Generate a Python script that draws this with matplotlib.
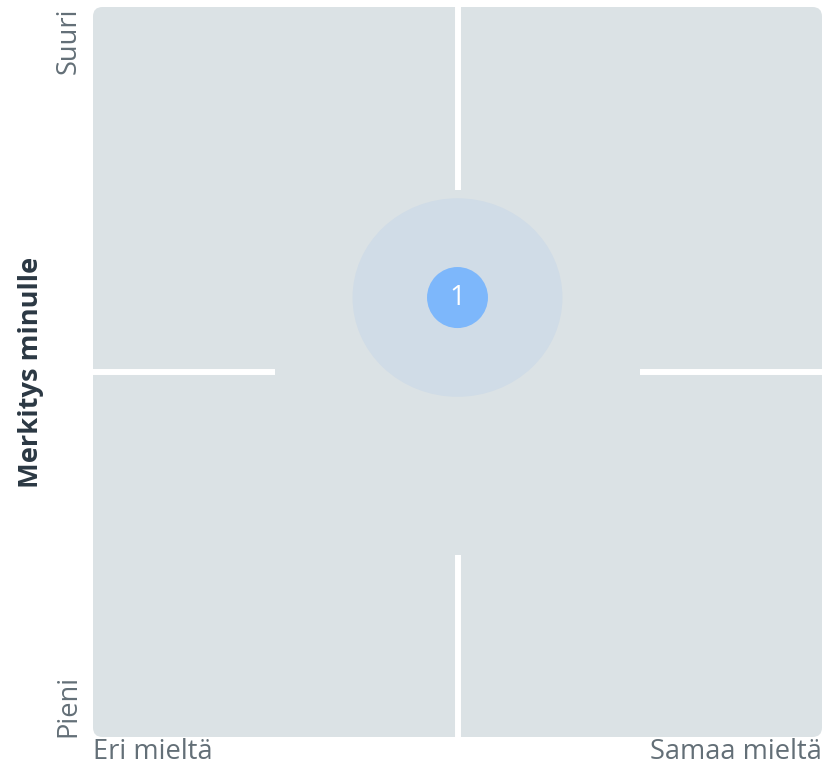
import matplotlib
matplotlib.use("Agg")
import matplotlib.pyplot as plt
from matplotlib.patches import FancyBboxPatch, Ellipse, Circle

# Opinion positions: agreement (x) vs. personal importance (y), both 0..1
point_labels = ["1"]
agreement = [0.5]
importance = [0.602]
spread_agreement = [0.144]
spread_importance = [0.136]

x_tick_labels = ["Eri mieltä", "Samaa mieltä"]
y_tick_labels = ["Pieni", "Suuri"]
y_title = "Merkitys minulle"

plt.rcParams["font.family"] = ["Open Sans", "DejaVu Sans"]

W, H = 827, 770
fig = plt.figure(figsize=(W / 100, H / 100), dpi=100)
left, right, top, bottom = 93, 822, 7, 737
ax = fig.add_axes([left / W, 1 - bottom / H, (right - left) / W, (bottom - top) / H])
ax.set_xlim(0, 1)
ax.set_ylim(0, 1)
ax.axis("off")

# rounded panel background
r = 0.013
bg = FancyBboxPatch((r, r), 1 - 2 * r, 1 - 2 * r,
                    boxstyle=f"round,pad={r}", transform=ax.transAxes,
                    facecolor="#dbe2e5", edgecolor="none", zorder=0)
ax.add_patch(bg)

# quadrant divider segments, open in the middle
lw = 4.3
for seg in [((0, 0.25), (0.5, 0.5)), ((0.75, 1), (0.5, 0.5)),
            ((0.5, 0.5), (0, 0.25)), ((0.5, 0.5), (0.75, 1))]:
    ax.plot(seg[0], seg[1], color="white", lw=lw, solid_capstyle="butt", zorder=1)

for lab, x, y, sx, sy in zip(point_labels, agreement, importance,
                             spread_agreement, spread_importance):
    ax.add_patch(Ellipse((x, y), 2 * sx, 2 * sy, facecolor="#d0dce7",
                         edgecolor="none", zorder=2))
    ax.add_patch(Circle((x, y), 0.0418, facecolor="#7db7fb",
                        edgecolor="none", zorder=3))
    ax.text(x, y, lab, color="white", fontsize=20, ha="center", va="center",
            zorder=4)

txt_col = "#636f77"
fs = 19.6
# x-axis end labels
ax.text(0, -0.002, x_tick_labels[0], transform=ax.transAxes, ha="left", va="top",
        fontsize=fs, color=txt_col)
ax.text(1, -0.002, x_tick_labels[1], transform=ax.transAxes, ha="right", va="top",
        fontsize=fs, color=txt_col)
# y-axis end labels
ax.text(-0.014, 0, y_tick_labels[0], transform=ax.transAxes, ha="right", va="bottom",
        rotation=90, fontsize=fs, color=txt_col)
ax.text(-0.014, 1, y_tick_labels[1], transform=ax.transAxes, ha="right", va="top",
        rotation=90, fontsize=fs, color=txt_col)
# y-axis title
fig.text(31 / W, 1 - 372 / H, y_title, rotation=90, ha="center", va="center",
         fontsize=fs, fontweight="bold", color="#2b3843")

fig.savefig("out.png", dpi=100)
